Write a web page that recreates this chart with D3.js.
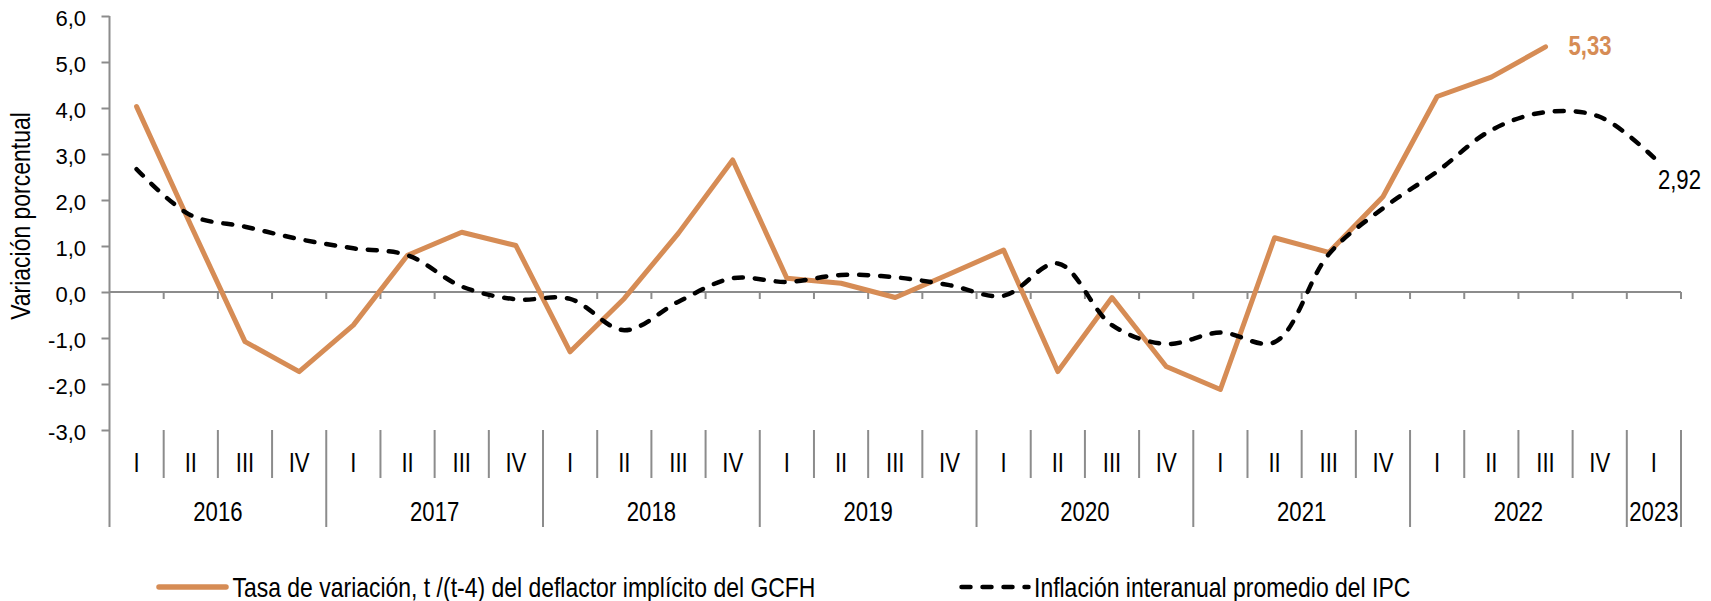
<!DOCTYPE html>
<html>
<head>
<meta charset="utf-8">
<script src="https://cdn.jsdelivr.net/npm/d3@7"></script>
<style>
body { margin: 0; background: #fff; }
text { font-family: "Liberation Sans", Arial, sans-serif; fill: #000; }
</style>
</head>
<body>
<svg width="1711" height="601"></svg>
<script>
const years = ['2016', '2017', '2018', '2019', '2020', '2021', '2022', '2023'];
const quartersPerYear = [4, 4, 4, 4, 4, 4, 4, 1];
const quarterNames = ['I', 'II', 'III', 'IV'];

// deflactor implicito del GCFH, t/(t-4) -- ends 2022 III
const deflactor = [4.03, 1.45, -1.08, -1.73, -0.72, 0.80, 1.30, 1.01, -1.30, -0.14, 1.28, 2.87,
	0.30, 0.19, -0.12, 0.39, 0.91, -1.73, -0.12, -1.62, -2.12, 1.18, 0.86, 2.07, 4.25, 4.67, 5.33];
// inflacion interanual promedio del IPC -- ends 2023 I
const ipc = [2.67, 1.67, 1.42, 1.15, 0.95, 0.80, 0.12, -0.16, -0.15, -0.83, -0.21, 0.30,
	0.22, 0.37, 0.32, 0.15, -0.08, 0.62, -0.72, -1.13, -0.88, -1.09, 0.82, 1.82, 2.62, 3.52, 3.91, 3.81, 2.92];

const yTicks = [-3, -2, -1, 0, 1, 2, 3, 4, 5, 6];
const legendLabels = ['Tasa de variación, t /(t-4) del deflactor implícito del GCFH', 'Inflación interanual promedio del IPC'];
const yTitle = 'Variación porcentual';

const orange = '#D68C55';
const axisGrey = '#8c8c8c';
const NARROW = 0.82; // Arial Narrow look

const periods = [];
years.forEach((y, i) => {
	d3.range(quartersPerYear[i]).forEach(q => periods.push({ year: y, q: quarterNames[q], key: y + '-' + quarterNames[q] }));
});

const svg = d3.select('svg');
const plot = { left: 109.5, right: 1681, top: 16, bottom: 430 };
const catRow = 478, yearRow = 527;

const xScale = d3.scaleBand()
	.domain(periods.map(d => d.key))
	.range([plot.left, plot.right]);
const xMid = i => xScale(periods[i].key) + xScale.bandwidth() / 2;

const yScale = d3.scaleLinear()
	.domain([-3, 6])
	.range([plot.bottom, plot.top]);

const locale = d3.formatLocale({ decimal: ',', thousands: '.', grouping: [3], currency: ['', ' €'], minus: '-' });
const f1 = locale.format('.1f');
const f2 = locale.format('.2f');

function narrowText(g, x, y, str, size, anchor) {
	return g.append('text')
		.attr('transform', `translate(${x},${y}) scale(${NARROW},1)`)
		.attr('text-anchor', anchor)
		.attr('font-size', size)
		.text(str);
}

// Y axis
const yAxis = d3.axisLeft(yScale)
	.tickValues(yTicks)
	.tickSize(8)
	.tickSizeOuter(0)
	.tickPadding(15.5)
	.tickFormat(f1);

const yg = svg.append('g')
	.attr('transform', `translate(${plot.left},0)`)
	.call(yAxis);
yg.select('.domain').remove();
yg.selectAll('.tick line').attr('stroke', axisGrey).attr('stroke-width', 2);
yg.selectAll('.tick text')
	.attr('font-family', '"Liberation Sans", Arial, sans-serif')
	.attr('font-size', 22)
	.attr('dy', '0.42em');

svg.append('line')
	.attr('x1', plot.left).attr('x2', plot.left)
	.attr('y1', yScale(6)).attr('y2', yearRow)
	.attr('stroke', axisGrey).attr('stroke-width', 2);

// zero line with category ticks
const boundaries = periods.map(d => xScale(d.key)).concat([plot.right]);
svg.append('line')
	.attr('x1', plot.left).attr('x2', plot.right)
	.attr('y1', yScale(0)).attr('y2', yScale(0))
	.attr('stroke', axisGrey).attr('stroke-width', 2);
svg.append('g').selectAll('line')
	.data(boundaries.slice(1))
	.enter()
	.append('line')
	.attr('x1', d => d).attr('x2', d => d)
	.attr('y1', yScale(0)).attr('y2', yScale(0) + 7)
	.attr('stroke', axisGrey).attr('stroke-width', 2);

// category separators below the plot
const isYearEdge = i => i === periods.length || periods[i].q === 'I';
svg.append('g').selectAll('line')
	.data(d3.range(1, periods.length + 1))
	.enter()
	.append('line')
	.attr('x1', i => boundaries[i]).attr('x2', i => boundaries[i])
	.attr('y1', plot.bottom)
	.attr('y2', i => isYearEdge(i) ? yearRow : catRow)
	.attr('stroke', axisGrey).attr('stroke-width', 2);

const labels = svg.append('g');
periods.forEach((p, i) => narrowText(labels, xMid(i), 472, p.q, 27, 'middle'));
years.forEach(y => {
	const ps = periods.filter(p => p.year === y);
	const x0 = xScale(ps[0].key), x1 = xScale(ps[ps.length - 1].key) + xScale.bandwidth();
	narrowText(labels, (x0 + x1) / 2, 521, y, 27, 'middle');
});

// y title
svg.append('text')
	.attr('transform', `translate(30,216) rotate(-90) scale(${NARROW},1)`)
	.attr('text-anchor', 'middle')
	.attr('font-size', 28)
	.text(yTitle);

// series
const line = d3.line()
	.x((d, i) => xMid(i))
	.y(d => yScale(d));

svg.append('path')
	.datum(deflactor)
	.attr('d', line)
	.attr('fill', 'none')
	.attr('stroke', orange)
	.attr('stroke-width', 5)
	.attr('stroke-linejoin', 'round')
	.attr('stroke-linecap', 'round');

svg.append('path')
	.datum(ipc)
	.attr('d', line.curve(d3.curveCatmullRom.alpha(0.5)))
	.attr('fill', 'none')
	.attr('stroke', '#000')
	.attr('stroke-width', 4.5)
	.attr('stroke-dasharray', '9,12')
	.attr('stroke-linecap', 'round');

// end labels
const lastD = deflactor.length - 1, lastI = ipc.length - 1;
narrowText(svg, xMid(lastD) + 23, yScale(deflactor[lastD]) + 8, f2(deflactor[lastD]), 27, 'start')
	.attr('font-weight', 'bold')
	.style('fill', orange);
narrowText(svg, xMid(lastI) + 4, yScale(ipc[lastI]) + 31, f2(ipc[lastI]), 27, 'start');

// legend
const legend = svg.append('g');
legend.append('line')
	.attr('x1', 159).attr('x2', 226).attr('y1', 587).attr('y2', 587)
	.attr('stroke', orange).attr('stroke-width', 5.5).attr('stroke-linecap', 'round');
narrowText(legend, 232.5, 597, legendLabels[0], 28, 'start');

legend.append('line')
	.attr('x1', 961.5).attr('x2', 1028.5).attr('y1', 587).attr('y2', 587)
	.attr('stroke', '#000').attr('stroke-width', 4.5)
	.attr('stroke-dasharray', '9,12').attr('stroke-linecap', 'round');
narrowText(legend, 1034, 597, legendLabels[1], 28, 'start');
</script>
</body>
</html>
